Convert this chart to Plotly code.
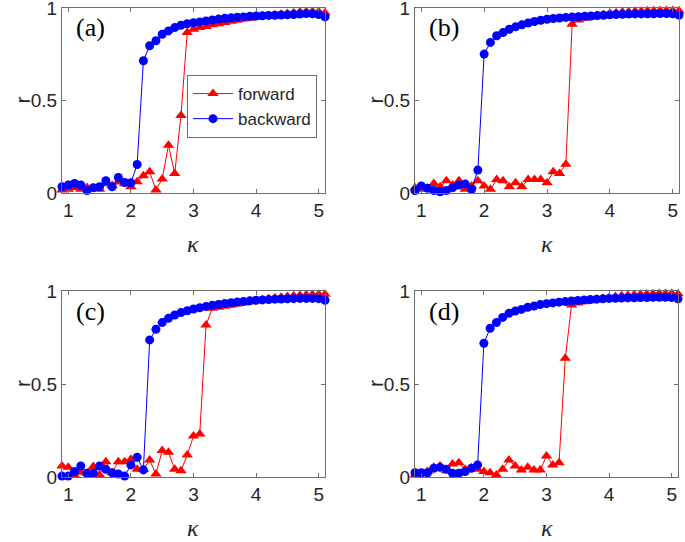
import plotly.graph_objects as go

kappa = [0.9, 1.0, 1.1, 1.2, 1.3, 1.4, 1.5, 1.6, 1.7, 1.8, 1.9, 2.0, 2.1, 2.2, 2.3, 2.4, 2.5,
         2.6, 2.7, 2.8, 2.9, 3.0, 3.1, 3.2, 3.3, 3.4, 3.5, 3.6, 3.7, 3.8, 3.9, 4.0, 4.1, 4.2,
         4.3, 4.4, 4.5, 4.6, 4.7, 4.8, 4.9, 5.0, 5.1]

fwd_a = [0.016, 0.02, 0.03, 0.02, 0.03, 0.025, 0.02, 0.05, 0.04, 0.06, 0.05, 0.034,
         0.061, 0.093, 0.115, 0.016, 0.075, 0.258, 0.106, 0.419, 0.867,
         0.885, 0.895, 0.9, 0.91, 0.915, 0.922, 0.928, 0.934, 0.94, 0.945, 0.95, 0.955,
         0.958, 0.962, 0.966, 0.97, 0.975, 0.978, 0.98, 0.98, 0.98, 0.975]
bwd_a = [0.034, 0.043, 0.052, 0.043, 0.013, 0.029, 0.034, 0.066, 0.034, 0.084, 0.057, 0.055,
         0.154, 0.715, 0.796, 0.823, 0.858, 0.876, 0.894, 0.907, 0.915, 0.92, 0.925, 0.93,
         0.935, 0.94, 0.944, 0.947, 0.95, 0.952, 0.955, 0.957, 0.958, 0.96, 0.961, 0.962,
         0.963, 0.965, 0.967, 0.97, 0.969, 0.965, 0.952]

fwd_b = [0.029, 0.02, 0.025, 0.052, 0.034, 0.066, 0.043, 0.066, 0.02, 0.038, 0.066, 0.038,
         0.02, 0.073, 0.066, 0.034, 0.056, 0.034, 0.073, 0.073, 0.073, 0.056, 0.115, 0.106,
         0.156, 0.912, 0.935, 0.945, 0.952, 0.958, 0.965, 0.97, 0.975, 0.978, 0.98, 0.982,
         0.983, 0.985, 0.985, 0.986, 0.986, 0.986, 0.985]
bwd_b = [0.013, 0.038, 0.025, 0.013, 0.007, 0.013, 0.029, 0.043, 0.048, 0.02, 0.124, 0.751,
         0.814, 0.85, 0.867, 0.885, 0.898, 0.909, 0.919, 0.927, 0.934, 0.939, 0.943, 0.946,
         0.949, 0.951, 0.953, 0.955, 0.957, 0.959, 0.961, 0.963, 0.965, 0.966, 0.967, 0.968,
         0.968, 0.969, 0.969, 0.97, 0.97, 0.969, 0.962]

fwd_c = [0.059, 0.052, 0.011, 0.025, 0.02, 0.056, 0.011, 0.082, 0.023, 0.082, 0.082, 0.095,
         0.041, 0.04, 0.091, 0.016, 0.142, 0.133, 0.041, 0.034, 0.118, 0.22, 0.231,
         0.817, 0.907, 0.912, 0.918, 0.924, 0.93, 0.936, 0.942, 0.948, 0.953, 0.958, 0.962,
         0.966, 0.97, 0.974, 0.977, 0.98, 0.981, 0.982, 0.982]
bwd_c = [0.005, 0.005, 0.029, 0.059, 0.02, 0.02, 0.059, 0.041, 0.023, 0.016, 0.005, 0.065,
         0.106, 0.038, 0.737, 0.794, 0.83, 0.853, 0.871, 0.884, 0.894, 0.903, 0.91, 0.916,
         0.923, 0.928, 0.933, 0.937, 0.941, 0.944, 0.947, 0.95, 0.952, 0.954, 0.956, 0.957,
         0.958, 0.959, 0.96, 0.96, 0.96, 0.959, 0.95]

fwd_d = [0.011, 0.016, 0.029, 0.052, 0.059, 0.034, 0.07, 0.077, 0.041, 0.05, 0.041, 0.029,
         0.023, 0.011, 0.041, 0.091, 0.059, 0.038, 0.052, 0.038, 0.038, 0.113, 0.065, 0.077,
         0.638, 0.925, 0.935, 0.942, 0.948, 0.954, 0.96, 0.965, 0.97, 0.974, 0.977, 0.98,
         0.982, 0.984, 0.985, 0.986, 0.986, 0.986, 0.985]
bwd_d = [0.023, 0.023, 0.023, 0.047, 0.052, 0.041, 0.02, 0.02, 0.029, 0.047, 0.065, 0.719,
         0.8, 0.83, 0.858, 0.88, 0.892, 0.901, 0.912, 0.919, 0.927, 0.932, 0.936, 0.94,
         0.943, 0.946, 0.949, 0.952, 0.954, 0.956, 0.958, 0.96, 0.961, 0.962, 0.963, 0.964,
         0.965, 0.965, 0.966, 0.966, 0.966, 0.965, 0.958]

panel_labels = ["(a)", "(b)", "(c)", "(d)"]
series_names = ["forward", "backward"]
x_ticks = [1, 2, 3, 4, 5]
y_ticks = [0, 0.5, 1]
y_tick_text = ["0", "0.5", "1"]

W, H = 685, 542
# plot-area pixel boxes (left, right, top, bottom)
boxes = [(62, 325, 8, 193), (415, 679, 8, 193), (62, 325, 291, 477), (415, 678, 291, 477)]
data = [(fwd_a, bwd_a), (fwd_b, bwd_b), (fwd_c, bwd_c), (fwd_d, bwd_d)]

fig = go.Figure()
AX = "#6e6e6e"
TXT = "#262626"
layout = dict(width=W, height=H, margin=dict(l=0, r=0, t=0, b=0, autoexpand=False),
              paper_bgcolor="white", plot_bgcolor="white", showlegend=True)
annotations = []
for i, ((l, r, t, b), (fw, bw)) in enumerate(zip(boxes, data)):
    n = i + 1
    xa = "xaxis" if n == 1 else f"xaxis{n}"
    ya = "yaxis" if n == 1 else f"yaxis{n}"
    xr = "x" if n == 1 else f"x{n}"
    yr = "y" if n == 1 else f"y{n}"
    common = dict(showline=True, linecolor=AX, linewidth=1, mirror="ticks", ticks="inside",
                  ticklen=4, tickcolor=AX, showgrid=False, zeroline=False, automargin=False,
                  ticklabeloverflow="allow",
                  tickfont=dict(family="Liberation Sans, Arial", size=19, color=TXT))
    layout[xa] = dict(domain=[l / W, r / W], range=[0.9, 5.1], tickvals=x_ticks,
                      anchor=yr, **common)
    layout[ya] = dict(domain=[1 - b / H, 1 - t / H], range=[0, 1], tickvals=y_ticks,
                      ticktext=y_tick_text, anchor=xr, **common)
    fig.add_trace(go.Scatter(x=kappa, y=fw, mode="lines+markers", name=series_names[0],
                             line=dict(color="#ff0000", width=1),
                             marker=dict(symbol="triangle-up", size=10, color="#ff0000"),
                             xaxis=xr, yaxis=yr, cliponaxis=False, showlegend=(n == 1)))
    fig.add_trace(go.Scatter(x=kappa, y=bw, mode="lines+markers", name=series_names[1],
                             line=dict(color="#0000ff", width=1),
                             marker=dict(symbol="circle", size=9, color="#0000ff"),
                             xaxis=xr, yaxis=yr, cliponaxis=False, showlegend=(n == 1)))
    # panel label
    annotations.append(dict(text=panel_labels[i], x=(l + 12) / W, y=1 - (t + 20) / H,
                            xref="paper", yref="paper", xanchor="left", yanchor="middle",
                            showarrow=False,
                            font=dict(family="Liberation Serif, Times New Roman", size=26,
                                      color="black")))
    # x title
    annotations.append(dict(text="<i>κ</i>", x=(l + r) / 2 / W, y=1 - (b + 51) / H,
                            xref="paper", yref="paper", xanchor="center", yanchor="middle",
                            showarrow=False,
                            font=dict(family="Liberation Serif, Times New Roman", size=24,
                                      color=TXT)))
    # y title
    annotations.append(dict(text="r", x=(l - 40) / W, y=1 - (t + b) / 2 / H,
                            xref="paper", yref="paper", xanchor="center", yanchor="middle",
                            showarrow=False, textangle=-90,
                            font=dict(family="Liberation Sans, Arial", size=21, color=TXT)))

layout["annotations"] = annotations
layout["legend"] = dict(x=187 / W, y=1 - 75 / H, xanchor="left", yanchor="top",
                        bgcolor="white", bordercolor=AX, borderwidth=1,
                        font=dict(family="Liberation Sans, Arial", size=17, color=TXT),
                        tracegroupgap=0, itemwidth=40)
fig.update_layout(**layout)
fig.write_html("out.html", config={"displayModeBar": False},
               post_script="document.body.style.margin='0px';document.body.style.overflow='hidden';")
